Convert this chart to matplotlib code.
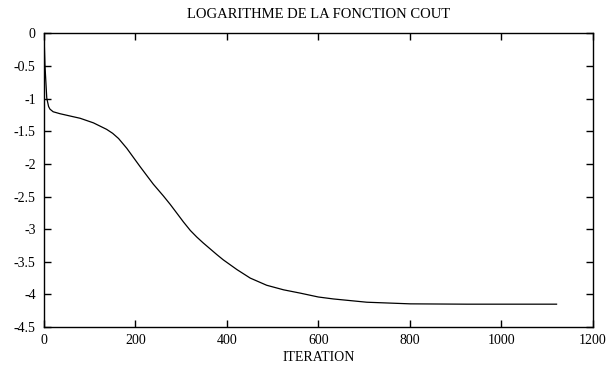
import matplotlib
matplotlib.use('Agg')
import matplotlib.pyplot as plt

# log of the cost function over the iterations
iterations = [0, 2, 6, 10, 13, 20, 35, 60, 79, 108, 137, 150, 163, 181, 210,
              225, 239, 250, 261, 276, 290, 305, 320, 334, 348, 363, 378, 392,
              422, 451, 487, 524, 560, 600, 633, 706, 801, 925, 1121]
log_cost = [-0.02, -0.48, -0.99, -1.12, -1.16, -1.20, -1.23, -1.27, -1.30,
            -1.37, -1.47, -1.53, -1.61, -1.76, -2.04, -2.18, -2.31, -2.40,
            -2.49, -2.62, -2.75, -2.89, -3.02, -3.12, -3.21, -3.30, -3.39,
            -3.47, -3.62, -3.75, -3.86, -3.93, -3.98, -4.04, -4.07, -4.12,
            -4.145, -4.15, -4.15]

xticks = [0, 200, 400, 600, 800, 1000, 1200]
yticks = [0, -0.5, -1, -1.5, -2, -2.5, -3, -3.5, -4, -4.5]
yticklabels = ['0', '-0.5', '-1', '-1.5', '-2', '-2.5', '-3', '-3.5', '-4', '-4.5']

plt.rcParams['font.family'] = ['Liberation Serif', 'DejaVu Serif']
plt.rcParams['font.size'] = 10

fig = plt.figure(figsize=(6.08, 3.70), dpi=100)
ax = fig.add_axes([0.0724, 0.1162, 0.9024, 0.7933])

ax.plot(iterations, log_cost, color='black', lw=0.9)

ax.set_xlim(0, 1200)
ax.set_ylim(-4.5, 0)
ax.set_xticks(xticks)
ax.set_yticks(yticks)
ax.set_yticklabels(yticklabels)
ax.tick_params(direction='in', length=5, width=1, top=True, right=True,
               labeltop=False, labelright=False)
ax.tick_params(axis='x', pad=5)
ax.tick_params(axis='y', pad=6)
for s in ax.spines.values():
    s.set_linewidth(1.0)

ax.set_title('LOGARITHME DE LA FONCTION COUT', fontsize=10.5, pad=11)
ax.set_xlabel('ITERATION', fontsize=10, labelpad=3)

fig.savefig('out.png', dpi=100)
